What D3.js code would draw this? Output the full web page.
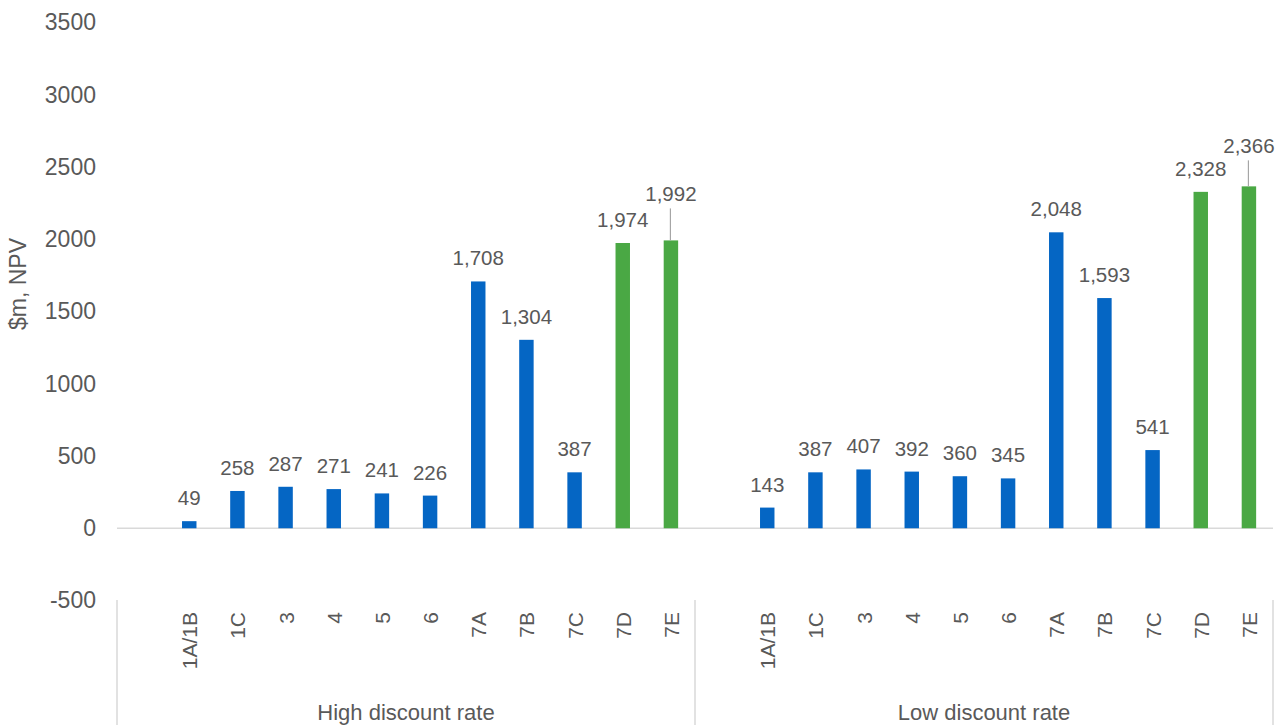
<!DOCTYPE html>
<html>
<head>
<meta charset="utf-8">
<script src="https://cdn.jsdelivr.net/npm/d3@7"></script>
<style>
  html, body { margin: 0; padding: 0; background: #ffffff; }
  svg text { font-family: "Liberation Sans", Arial, sans-serif; fill: #595959; }
</style>
</head>
<body>
<svg id="chart" width="1286" height="725"></svg>
<script>
// Scenario names within each discount-rate group (first slot left blank)
const scenarios = ["", "1A/1B", "1C", "3", "4", "5", "6", "7A", "7B", "7C", "7D", "7E"];
const groups = ["High discount rate", "Low discount rate"];
// NPV values, $m
const highValues = [null, 49, 258, 287, 271, 241, 226, 1708, 1304, 387, 1974, 1992];
const lowValues  = [null, 143, 387, 407, 392, 360, 345, 2048, 1593, 541, 2328, 2366];
// Scenarios drawn in green
const greenScenarios = ["7D", "7E"];
// Labels lifted above their bar with a leader line
const leaderScenarios = ["7E"];
const yTicks = [-500, 0, 500, 1000, 1500, 2000, 2500, 3000, 3500];

// Layout: how far a lifted label sits above its bar, per group
const leaderLift = { "High discount rate": 39, "Low discount rate": 33 };

const blue = "#0566C4";
const green = "#4AA844";
const gridGrey = "#d9d9d9";

const svg = d3.select("#chart");
const plotLeft = 117, plotRight = 1273;

const rows = [];
groups.forEach((g, gi) => {
  const vals = gi === 0 ? highValues : lowValues;
  scenarios.forEach((s, si) => {
    rows.push({ key: g + "|" + si, group: g, scenario: s, value: vals[si] });
  });
});

const x = d3.scaleBand()
  .domain(rows.map(d => d.key))
  .range([plotLeft, plotRight])
  .paddingInner(0.7)
  .paddingOuter(0.35);

const y = d3.scaleLinear().domain([-500, 3500]).range([600.5, 22.5]);

// Y axis tick labels (plain hyphen for negatives)
const yAxis = d3.axisLeft(y).tickValues(yTicks).tickSize(0).tickPadding(0).tickFormat(d => String(d));
const yg = svg.append("g").attr("transform", "translate(96,0)").call(yAxis);
yg.select(".domain").remove();
yg.selectAll("text").style("font-size", "23px").attr("fill", "#595959")
  .attr("font-family", "Liberation Sans, Arial, sans-serif");

// Y axis title
svg.append("text")
  .attr("transform", "translate(26,284) rotate(-90)")
  .attr("text-anchor", "middle")
  .style("font-size", "23px")
  .text("$m, NPV");

// Zero line
svg.append("line")
  .attr("x1", plotLeft).attr("x2", plotRight)
  .attr("y1", y(0)).attr("y2", y(0))
  .attr("stroke", gridGrey).attr("stroke-width", 1.5);

// Bars
const bars = rows.filter(d => d.value != null);
svg.append("g").selectAll("rect").data(bars).join("rect")
  .attr("x", d => x(d.key))
  .attr("width", x.bandwidth())
  .attr("y", d => y(Math.max(0, d.value)))
  .attr("height", d => Math.abs(y(d.value) - y(0)))
  .attr("fill", d => greenScenarios.includes(d.scenario) ? green : blue);

// Value labels
const fmt = d3.format(",");
const lifted = d => leaderScenarios.includes(d.scenario);
const labelY = d => y(d.value) - (lifted(d) ? leaderLift[d.group] : 16);
svg.append("g").selectAll("text").data(bars).join("text")
  .attr("x", d => x(d.key) + x.bandwidth() / 2)
  .attr("y", labelY)
  .attr("text-anchor", "middle")
  .style("font-size", "20.5px")
  .text(d => fmt(d.value));

// Leader lines for lifted labels
svg.append("g").selectAll("line").data(bars.filter(lifted)).join("line")
  .attr("x1", d => x(d.key) + x.bandwidth() / 2 - 0.5)
  .attr("x2", d => x(d.key) + x.bandwidth() / 2 - 0.5)
  .attr("y1", d => labelY(d) + 7)
  .attr("y2", d => y(d.value))
  .attr("stroke", "#a6a6a6").attr("stroke-width", 1.2);

// Category labels (rotated)
svg.append("g").selectAll("text").data(rows.filter(d => d.scenario !== "")).join("text")
  .attr("transform", d => `translate(${x(d.key) + x.bandwidth() / 2 + 8},612) rotate(-90)`)
  .attr("text-anchor", "end")
  .style("font-size", "21px")
  .text(d => d.scenario);

// Group separators and group labels
const groupStep = (plotRight - plotLeft) / groups.length;
const seps = d3.range(groups.length + 1).map(i => plotLeft + i * groupStep);
svg.append("g").selectAll("line").data(seps).join("line")
  .attr("x1", d => d).attr("x2", d => d)
  .attr("y1", 600).attr("y2", 725)
  .attr("stroke", gridGrey).attr("stroke-width", 1.5);

svg.append("g").selectAll("text").data(groups).join("text")
  .attr("x", (d, i) => plotLeft + (i + 0.5) * groupStep)
  .attr("y", 720)
  .attr("text-anchor", "middle")
  .style("font-size", "22px")
  .text(d => d);
</script>
</body>
</html>
